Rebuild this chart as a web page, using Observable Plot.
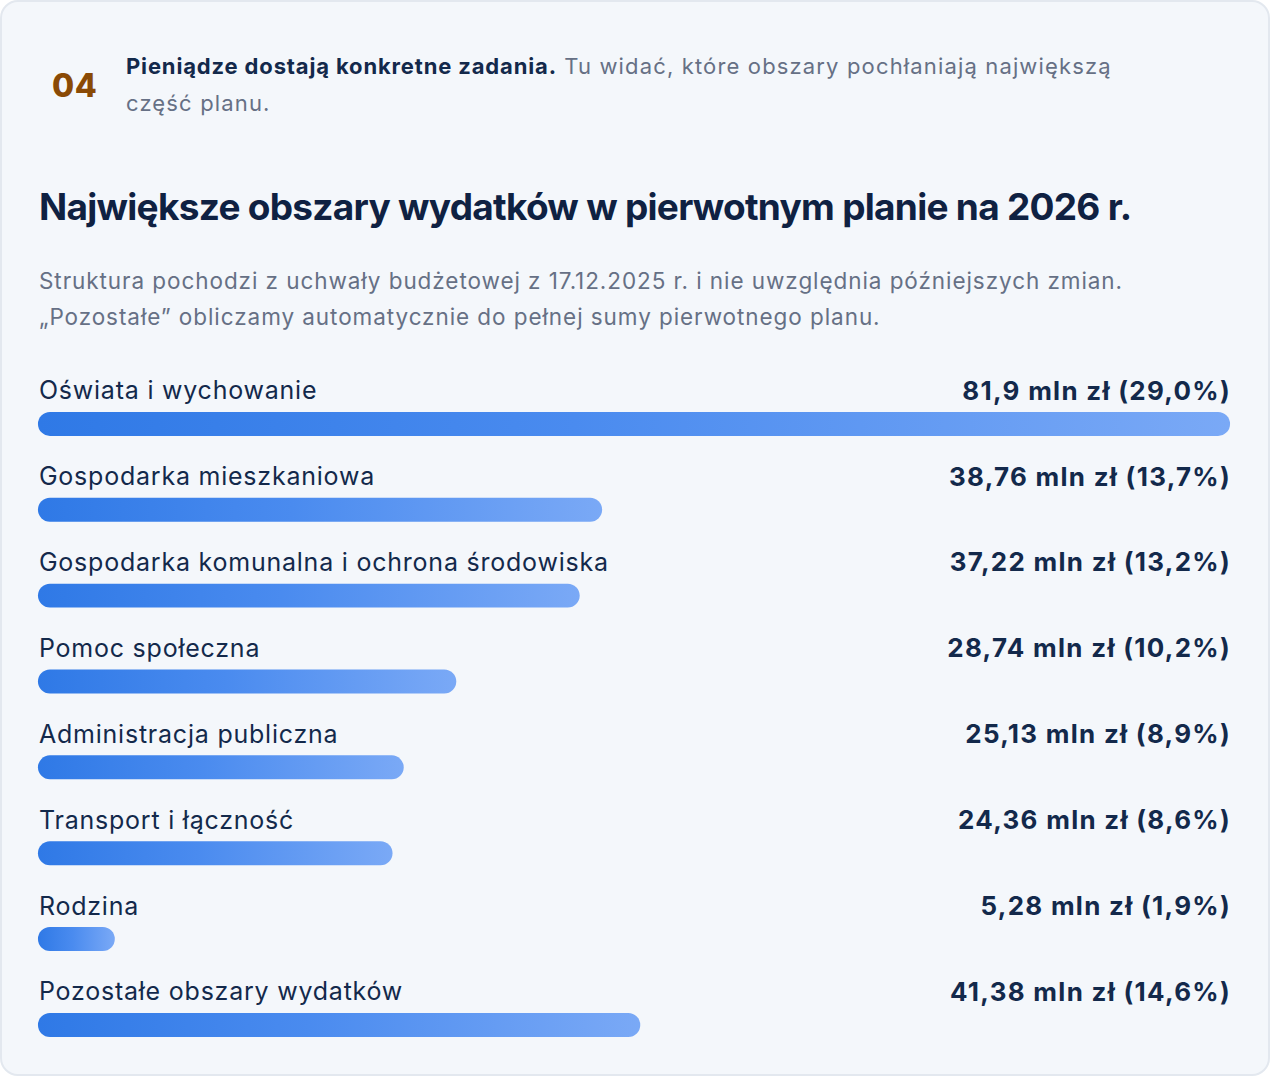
<!DOCTYPE html>
<html lang="pl">
<head>
<meta charset="utf-8">
<script src="https://cdn.jsdelivr.net/npm/d3@7"></script>
<script src="https://cdn.jsdelivr.net/npm/@observablehq/plot@0.6"></script>
<style>
  html, body { margin: 0; padding: 0; background: #ffffff; }
  body { width: 1270px; height: 1076px; overflow: hidden; font-family: Inter, "Noto Sans", sans-serif; }
  .card { position: absolute; left: 0; top: 0; width: 1266px; height: 1072px; border: 2px solid #e3e8ef; border-radius: 18px; background: #f4f7fb; }
  .num { position: absolute; left: 50px; top: 64px; font-size: 32px; font-weight: 800; color: #8a4a05; letter-spacing: 0.5px; }
  .intro { position: absolute; left: 124px; top: 46px; width: 1012px; font-size: 22px; line-height: 37px; color: #667085; letter-spacing: 1.15px; }
  .intro .lead { color: #13294b; font-weight: 700; letter-spacing: 0.85px; }
  .title { position: absolute; left: 37px; top: 182px; font-size: 37px; font-weight: 700; color: #0f2142; letter-spacing: -0.72px; margin: 0; white-space: nowrap; }
  .sub { position: absolute; left: 37px; top: 261px; font-size: 22.5px; line-height: 36px; color: #667085; letter-spacing: 0.93px; white-space: nowrap; }
  #chart { position: absolute; left: -2px; top: 358px; }
</style>
</head>
<body>
<div class="card">
  <div class="num">04</div>
  <div class="intro"><span class="lead">Pieniądze dostają konkretne zadania.</span><span> Tu widać, które obszary pochłaniają największą część planu.</span></div>
  <h1 class="title">Największe obszary wydatków w pierwotnym planie na 2026 r.</h1>
  <div class="sub">Struktura pochodzi z uchwały budżetowej z 17.12.2025 r. i nie uwzględnia późniejszych zmian.<br>„Pozostałe” obliczamy automatycznie do pełnej sumy pierwotnego planu.</div>
  <div id="chart"></div>
</div>
<script>
const categories = [
  "Oświata i wychowanie",
  "Gospodarka mieszkaniowa",
  "Gospodarka komunalna i ochrona środowiska",
  "Pomoc społeczna",
  "Administracja publiczna",
  "Transport i łączność",
  "Rodzina",
  "Pozostałe obszary wydatków"
];
const amounts = [81.9, 38.76, 37.22, 28.74, 25.13, 24.36, 5.28, 41.38];
const amountLabels = ["81,9", "38,76", "37,22", "28,74", "25,13", "24,36", "5,28", "41,38"];
const shareLabels = ["29,0%", "13,7%", "13,2%", "10,2%", "8,9%", "8,6%", "1,9%", "14,6%"];

const rows = categories.map((c, i) => ({
  category: c,
  amount: amounts[i],
  label: `${amountLabels[i]} mln zł (${shareLabels[i]})`
}));
const maxAmount = d3.max(amounts);

const plot = Plot.plot({
  width: 1270,
  height: 688,
  marginLeft: 38,
  marginRight: 38,
  marginTop: 0,
  marginBottom: 0,
  style: { background: "transparent", fontFamily: "Inter, 'Noto Sans', sans-serif", overflow: "visible" },
  x: { domain: [0, maxAmount], axis: null },
  y: { domain: categories, axis: null, padding: 0 },
  marks: [
    Plot.barX(rows, { x: "amount", y: "category", insetTop: 52, insetBottom: 10, rx: 12, fill: "url(#barGrad)" }),
    Plot.text(rows, { x: 0, y: "category", text: "category", textAnchor: "start", dy: -12, dx: 0.5, fontSize: 25, fill: "#13294b" }),
    Plot.text(rows, { x: () => maxAmount, y: "category", text: "label", textAnchor: "end", dy: -12, dx: 0.5, fontSize: 26, fontWeight: 700, fill: "#13294b" })
  ]
});

// letter spacing to mimic the wider system font of the original
plot.querySelectorAll("g[aria-label='text']").forEach((g, i) => {
  g.setAttribute("letter-spacing", i === 0 ? "0.8" : "1.3");
});

const svgNS = "http://www.w3.org/2000/svg";
const defs = document.createElementNS(svgNS, "defs");
defs.innerHTML = `<linearGradient id="barGrad" x1="0" y1="0" x2="1" y2="0">
  <stop offset="0" stop-color="#2f79e6"/>
  <stop offset="0.45" stop-color="#4a8bef"/>
  <stop offset="1" stop-color="#7aa9f6"/>
</linearGradient>`;
plot.insertBefore(defs, plot.firstChild);
document.getElementById("chart").appendChild(plot);
</script>
</body>
</html>
